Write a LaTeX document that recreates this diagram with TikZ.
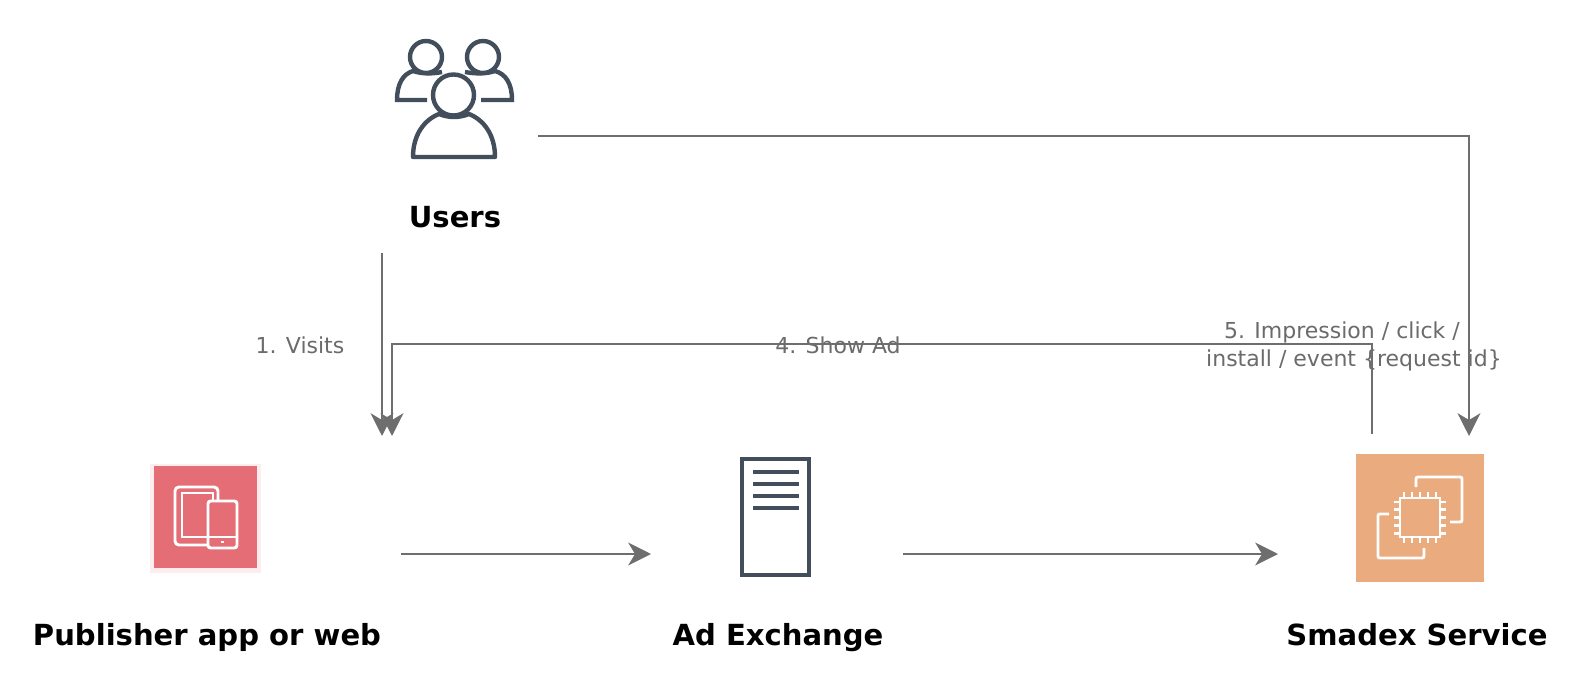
\documentclass[tikz,border=0pt]{standalone}
\usepackage{fontspec}
\setmainfont{DejaVu Sans}
\usetikzlibrary{arrows.meta}
\definecolor{iconslate}{HTML}{434E5C}
\definecolor{wire}{HTML}{6E6E6E}
\definecolor{labelgrey}{HTML}{6B6B6B}
\definecolor{pubred}{HTML}{E56E76}
\definecolor{pubedge}{HTML}{FDEDEE}
\definecolor{svcorange}{HTML}{EAAB7E}
\tikzset{
  wirearrow/.style={draw=wire,line width=2.1pt,-{Stealth[length=17pt,width=17pt,inset=5pt]}},
  slate/.style={draw=iconslate,line width=3.3pt},
  whiteicon/.style={draw=white,line width=2.2pt},
  titlelabel/.style={font=\fontsize{21.8}{26}\selectfont\bfseries,text=black,inner sep=0pt,anchor=base},
  steplabel/.style={font=\fontsize{16.5}{21}\selectfont,text=labelgrey,inner sep=0pt,align=center},
}
\begin{document}
\begin{tikzpicture}[x=0.75pt,y=-0.75pt]
\useasboundingbox (0,0) rectangle (1586,692);
\fill[white] (0,0) rectangle (1586,692);

% anchors for connector ends
\coordinate (usersEast) at (538,136);
\coordinate (usersCorner) at (1469,136);
\coordinate (svcIn) at (1469,436);
\coordinate (usersSouth) at (382,253);
\coordinate (pubIn1) at (382,436);
\coordinate (pubIn2) at (392,436);
\coordinate (svcOut) at (1372,434);
\coordinate (adCornerR) at (1372,344);
\coordinate (adCornerL) at (392,344);
\coordinate (pubOut) at (401,554);
\coordinate (exIn) at (651,554);
\coordinate (exOut) at (903,554);
\coordinate (svcInL) at (1278,554);

% labels
\node[titlelabel] (usersL) at (455,227) {Users};
\node[titlelabel] (pubL) at (207,645) {Publisher app or web};
\node[titlelabel] (exL) at (778,645) {Ad Exchange};
\node[titlelabel] (svcL) at (1417,645) {Smadex Service};
\node[steplabel] (visits) at (300,345) {1. Visits};
\node[steplabel] (showad) at (838,345) {4. Show Ad};
\node[steplabel] (impr) at (1354,346) {5. Impression / click /\hspace*{18pt}\\install / event \{request id\}};

% connectors
\draw[wirearrow] (usersEast) -- (usersCorner) -- (svcIn);
\draw[wirearrow] (usersSouth) -- (pubIn1);
\draw[wirearrow] (svcOut) -- (adCornerR) -- (adCornerL) -- (pubIn2);
\draw[wirearrow] (pubOut) -- (exIn);
\draw[wirearrow] (exOut) -- (svcInL);

% users icon
\draw[slate] (426,57) circle (16);
\draw[slate] (483,57) circle (16);
\draw[slate] (427,100) -- (397,100) .. controls (397,84) and (403,74) .. (413,71) .. controls (422,74) and (432,74) .. (442,72);
\draw[slate] (481,100) -- (512,100) .. controls (512,84) and (506,74) .. (495,71) .. controls (486,74) and (476,74) .. (465,72);
\draw[slate] (453.5,95) circle (20.5);
\draw[slate,line join=round] (413,157) -- (495,157) .. controls (495,135) and (484,120) .. (469,114) .. controls (459,118) and (449,118) .. (439,114) .. controls (424,120) and (413,135) .. (413,157) -- cycle;

% publisher icon
\fill[pubedge] (150,464) rectangle (261,573);
\fill[pubred] (154,466) rectangle (257,568);
\draw[whiteicon,rounded corners=3pt] (208,545) -- (175,545) -- (175,487) -- (218,487) -- (218,501);
\draw[whiteicon] (208,537) -- (182,537) -- (182,493) -- (213,493) -- (213,501);
\draw[whiteicon,fill=pubred,rounded corners=2pt] (208,501) rectangle (237,548);
\draw[whiteicon] (208,537) -- (237,537);
\draw[whiteicon] (221,542) -- (224,542);

% ad exchange icon
\draw[slate] (742,459) rectangle (809,575);
\foreach \ly in {472,484,496,508} \draw[slate] (753,\ly) -- (799,\ly);

% smadex icon
\fill[svcorange] (1356,454) rectangle (1484,582);
\draw[whiteicon,rounded corners=1.5pt] (1416,487) -- (1416,477) -- (1462,477) -- (1462,522) -- (1450,522);
\draw[whiteicon,rounded corners=1.5pt] (1389,514) -- (1378,514) -- (1378,558) -- (1424,558) -- (1424,548);
\draw[whiteicon] (1400,498) rectangle (1440,537);
\foreach \p in {0,1,2,3,4} {
  \draw[whiteicon] (1404+\p*8,498) -- (1404+\p*8,492);
  \draw[whiteicon] (1404+\p*8,537) -- (1404+\p*8,543);
  \draw[whiteicon] (1400,502+\p*7.8) -- (1394,502+\p*7.8);
  \draw[whiteicon] (1440,502+\p*7.8) -- (1446,502+\p*7.8);
}
\end{tikzpicture}
\end{document}
